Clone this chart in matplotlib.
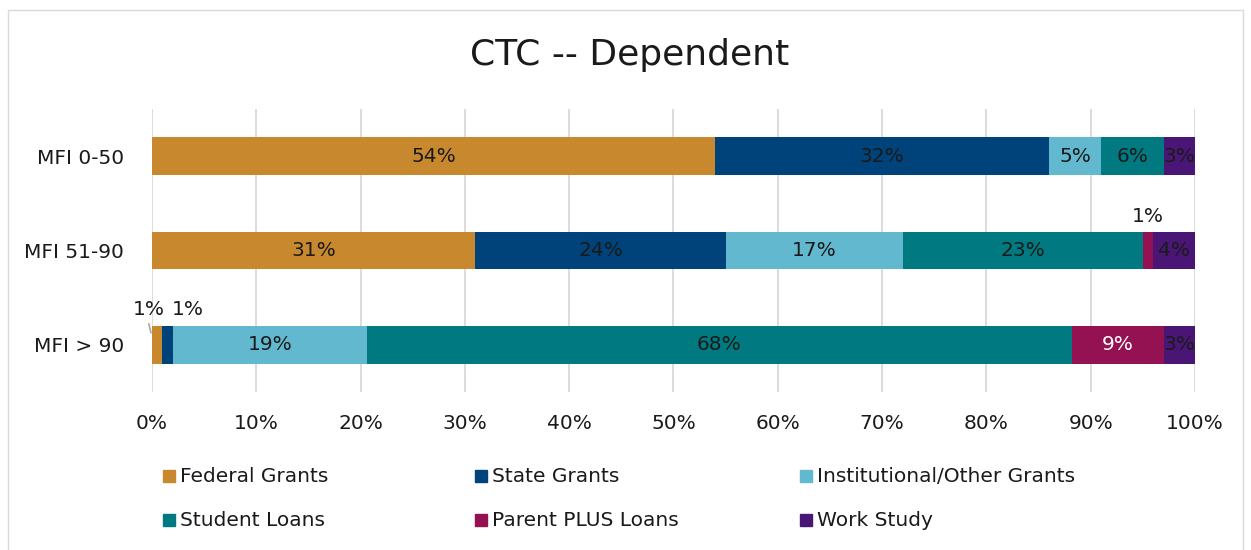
import numpy as np
import matplotlib.pyplot as plt
from matplotlib.patches import Rectangle

plt.rcParams['font.family'] = ['DejaVu Sans']

# ===== data =====
categories = ["MFI 0-50", "MFI 51-90", "MFI > 90"]
series_names = ["Federal Grants", "State Grants", "Institutional/Other Grants",
                "Student Loans", "Parent PLUS Loans", "Work Study"]
federal = [54.0, 31.0, 1.0]
state = [32.0, 24.0, 1.0]
institutional = [5.0, 17.0, 18.6]
student = [6.0, 23.0, 67.6]
parent_plus = [0.0, 1.0, 8.8]
work_study = [3.0, 4.0, 3.0]
colors = ["#C8892E", "#00427A", "#62B8CE", "#007A80", "#941152", "#4A1675"]
text_colors = ["#1a1a1a", "#1a1a1a", "#1a1a1a", "#1a1a1a", "#ffffff", "#1a1a1a"]

series = [federal, state, institutional, student, parent_plus, work_study]

fig = plt.figure(figsize=(12.51, 5.5), dpi=100)
ax = fig.add_axes([152/1251, 1-392/550, (1195-152)/1251, (392-109)/550])

y = np.arange(len(categories))
left = np.zeros(len(categories))
for s, vals in enumerate(series):
    vals = np.array(vals)
    ax.barh(y, vals, left=left, height=0.40, color=colors[s], zorder=3)
    for i, v in enumerate(vals):
        if v <= 0:
            continue
        cx = left[i] + v / 2
        if v < 2:
            # small segments: label sits above the bar
            if i == 2 and s == 0:
                ax.text(cx - 0.8, y[i] - 0.27, f"{v:.0f}%", ha="center", va="bottom",
                        fontsize=14.5, color="#1a1a1a")
                ax.plot([-0.3, -0.1], [y[i] - 0.22, y[i] - 0.13],
                        color="#a6a6a6", lw=1.2, zorder=4, clip_on=False)
            elif i == 2 and s == 1:
                ax.text(cx + 1.9, y[i] - 0.27, f"{v:.0f}%", ha="center", va="bottom",
                        fontsize=14.5, color="#1a1a1a")
            else:
                ax.text(cx, y[i] - 0.26, f"{v:.0f}%", ha="center", va="bottom",
                        fontsize=14.5, color="#1a1a1a")
        else:
            ax.text(cx, y[i], f"{v:.0f}%", ha="center", va="center",
                    fontsize=14.5, color=text_colors[s], zorder=4)
    left = left + vals

ax.set_xlim(0, 100)
ax.set_ylim(2.5, -0.5)
ax.set_yticks(y)
ax.set_yticklabels(categories, fontsize=14.5, color="#1a1a1a")
ax.set_xticks(np.arange(0, 101, 10))
ax.set_xticklabels([f"{t}%" for t in range(0, 101, 10)], fontsize=14.5, color="#1a1a1a")
ax.tick_params(length=0)
ax.tick_params(axis="x", pad=16)
ax.tick_params(axis="y", pad=20)
ax.grid(axis="x", color="#d9d9d9", lw=1.3, zorder=0)
for sp in ax.spines.values():
    sp.set_visible(False)

fig.text(630/1251, 1-55/550, "CTC -- Dependent", ha="center", va="center",
         fontsize=26, color="#1a1a1a")

# legend laid out in 2 rows x 3 columns
leg_x = [163, 475, 800]
leg_y = [476, 520]
for k, name in enumerate(series_names):
    r, c = divmod(k, 3)
    x0 = leg_x[c] / 1251
    y0 = 1 - leg_y[r] / 550
    fig.patches.append(Rectangle((x0, y0 - 6/550), 12/1251, 12/550,
                                 transform=fig.transFigure, color=colors[k]))
    fig.text(x0 + 17/1251, y0, name, ha="left", va="center", fontsize=14.5, color="#1a1a1a")

# outer chart frame
fig.patches.append(Rectangle((8/1251, -0.01), 1235/1251, 1 - 10/550 + 0.01,
                             transform=fig.transFigure, fill=False,
                             edgecolor="#d9d9d9", lw=1))

plt.savefig("out.png", dpi=100)
